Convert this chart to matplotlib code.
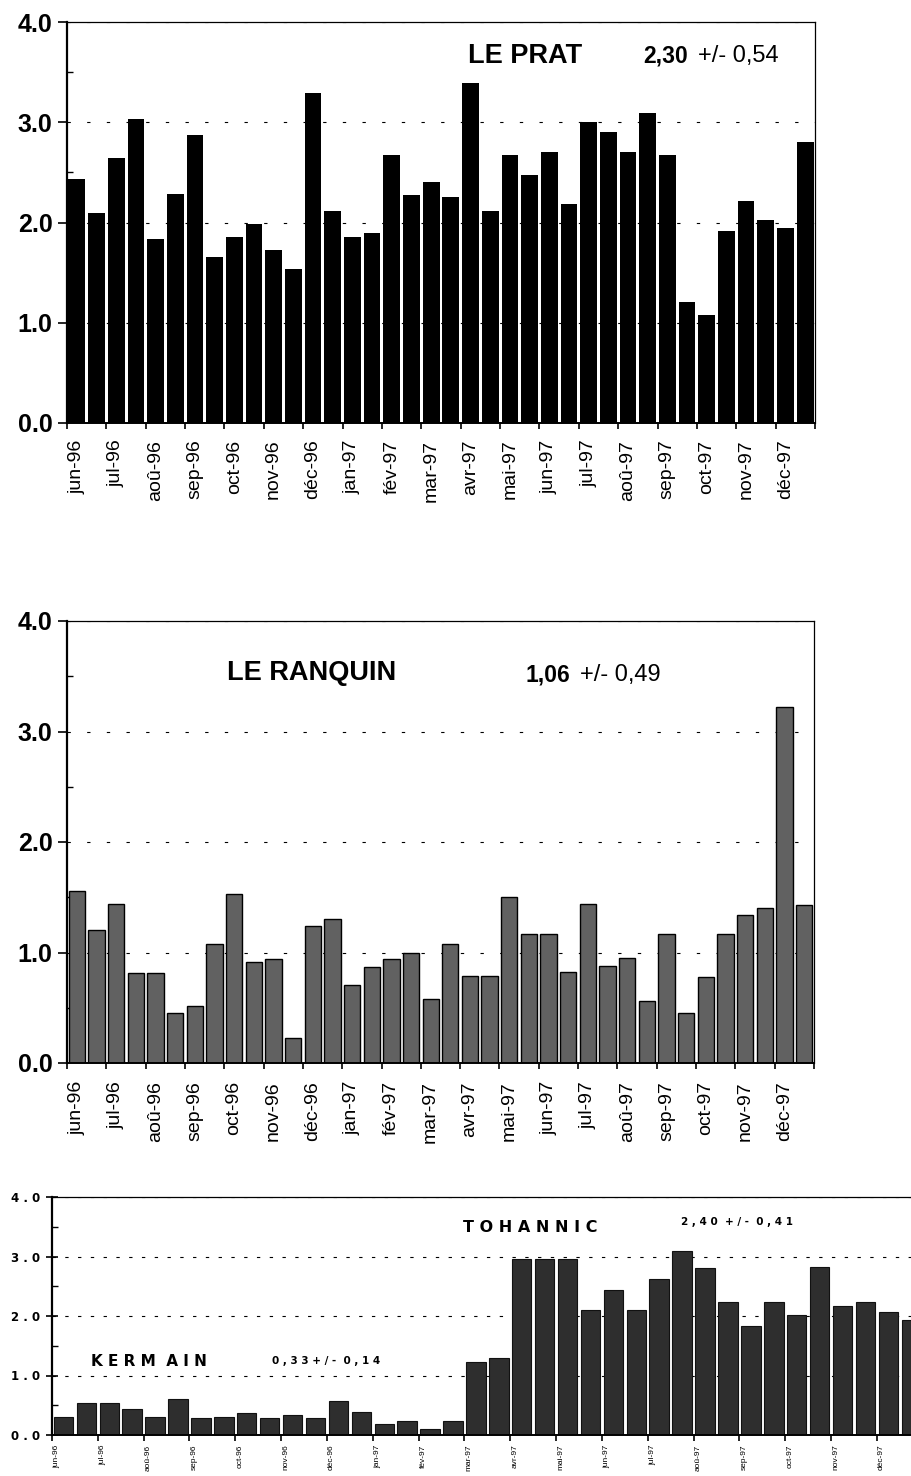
import numpy as np
import matplotlib.pyplot as plt

plt.rcParams['font.family'] = ['Liberation Sans', 'DejaVu Sans']

# two samples per month, jun-96 -> déc-97
months = ['jun-96', 'jul-96', 'aoû-96', 'sep-96', 'oct-96', 'nov-96', 'déc-96',
          'jan-97', 'fév-97', 'mar-97', 'avr-97', 'mai-97', 'jun-97', 'jul-97',
          'aoû-97', 'sep-97', 'oct-97', 'nov-97', 'déc-97']

le_prat = [2.43, 2.09, 2.64, 3.03, 1.84, 2.28, 2.87, 1.66, 1.86, 1.99,
           1.73, 1.54, 3.29, 2.11, 1.86, 1.90, 2.67, 2.27, 2.40, 2.25,
           3.39, 2.11, 2.67, 2.47, 2.70, 2.18, 3.00, 2.90, 2.70, 3.09,
           2.67, 1.21, 1.08, 1.92, 2.21, 2.02, 1.95, 2.80]

le_ranquin = [1.56, 1.20, 1.44, 0.81, 0.81, 0.45, 0.52, 1.08, 1.53, 0.91,
              0.94, 0.23, 1.24, 1.30, 0.71, 0.87, 0.94, 1.00, 0.58, 1.08,
              0.79, 0.79, 1.50, 1.17, 1.17, 0.82, 1.44, 0.88, 0.95, 0.56,
              1.17, 0.45, 0.78, 1.17, 1.34, 1.40, 3.22, 1.43]

# Kermain up to fév-97, Tohannic from mar-97
kermain = [0.31, 0.53, 0.53, 0.43, 0.31, 0.60, 0.28, 0.30, 0.37, 0.28,
           0.34, 0.28, 0.57, 0.38, 0.18, 0.24, 0.10, 0.24]
tohannic = [1.22, 1.29, 2.96, 2.96, 2.96, 2.10, 2.44, 2.10, 2.62, 3.10,
            2.81, 2.23, 1.83, 2.24, 2.02, 2.83, 2.16, 2.23, 2.06, 1.93]

W, H = 911, 1476
n = len(le_prat)
x = np.arange(n)
edges = np.arange(0, n + 1, 2) - 0.5

fig = plt.figure(figsize=(W / 100, H / 100), dpi=100)


def frame(ax, label_pos, xfont, ypad, xpad, ylabels, yfont, grid_dash, tickdir, family=None):
    ax.set_xlim(-0.5, n - 0.5)
    ax.set_ylim(0, 4)
    ax.grid(axis='y', which='major', color='black', lw=0.8, linestyle=grid_dash, zorder=0)
    ax.set_axisbelow(True)
    ax.set_yticks([0, 1, 2, 3, 4])
    ax.set_yticklabels(ylabels, fontsize=yfont, fontweight='bold', family=family)
    ax.set_yticks(np.arange(0.5, 4, 1), minor=True)
    ax.tick_params(axis='y', which='major', direction=tickdir, length=6.5, width=1.2, pad=ypad)
    ax.tick_params(axis='y', which='minor', direction='in', length=4, width=1)
    ax.set_xticks(edges)
    ax.set_xticklabels([])
    ax.set_xticks(label_pos, minor=True)
    ax.set_xticklabels(months, minor=True, rotation=90, fontsize=xfont)
    ax.tick_params(axis='x', which='major', direction='out', length=4.5, width=1.2)
    ax.tick_params(axis='x', which='minor', length=0, pad=xpad)
    ax.spines['left'].set_linewidth(1.6)
    ax.spines['bottom'].set_linewidth(1.4)
    ax.spines['top'].set_linewidth(0.9)
    ax.spines['right'].set_linewidth(0.9)


### LE PRAT ###
ax1 = fig.add_axes([67 / W, 1 - 423 / H, 748 / W, 401 / H])
ax1.bar(x, le_prat, width=0.85, color='black', zorder=2)
frame(ax1, edges[:-1] + 0.5, 14, 4, 12, ['0.0', '1.0', '2.0', '3.0', '4.0'], 18,
      (0, (3, 14.7)), 'out')
ax1.text(19.87, 3.66, 'LE PRAT', fontsize=19.5, fontweight='bold', va='center')
ax1.text(28.77, 3.66, '2,30', fontsize=16.5, fontweight='bold', va='center')
ax1.text(31.56, 3.66, '+/- 0,54', fontsize=17, va='center')

### LE RANQUIN ###
ax2 = fig.add_axes([67 / W, 1 - 1063 / H, 747 / W, 442 / H])
ax2.bar(x, le_ranquin, width=0.83, color='#616161', edgecolor='black', lw=1.0, zorder=2)
frame(ax2, edges[:-1] + 0.5, 14, 4, 13, ['0.0', '1.0', '2.0', '3.0', '4.0'], 18,
      (0, (3, 14.7)), 'out')
ax2.text(7.64, 3.53, 'LE RANQUIN', fontsize=19.5, fontweight='bold', va='center')
ax2.text(22.8, 3.51, '1,06', fontsize=16.5, fontweight='bold', va='center')
ax2.text(25.6, 3.51, '+/- 0,49', fontsize=17, va='center')

### KERMAIN / TOHANNIC ###
ax3 = fig.add_axes([52 / W, 1 - 1435 / H, 870.7 / W, 238 / H])
nk = len(kermain)
ax3.bar(x[:nk], kermain, width=0.85, color='#2e2e2e', edgecolor='#111111', lw=0.8, zorder=2)
ax3.bar(x[nk:], tohannic, width=0.85, color='#2e2e2e', edgecolor='#111111', lw=0.8, zorder=2)
frame(ax3, edges[:-1] + 0.2, 6, 4, 7, ['0 . 0', '1 . 0', '2 . 0', '3 . 0', '4 . 0'], 8.5,
      (0, (3, 8.5)), 'inout', family='DejaVu Sans')
ax3.tick_params(axis='y', which='major', length=9)
small = dict(family='DejaVu Sans', fontweight='bold', va='center')
ax3.text(1.20, 1.24, 'K E R M  A I N', fontsize=11, **small)
ax3.text(9.10, 1.24, '0 , 3 3 + / -  0 , 1 4', fontsize=7.5, **small)
ax3.text(17.44, 3.48, 'T O H A N N I C', fontsize=11.5, **small)
ax3.text(26.95, 3.58, '2 , 4 0  + / -  0 , 4 1', fontsize=7.5, **small)

plt.savefig('out.png', dpi=100)
